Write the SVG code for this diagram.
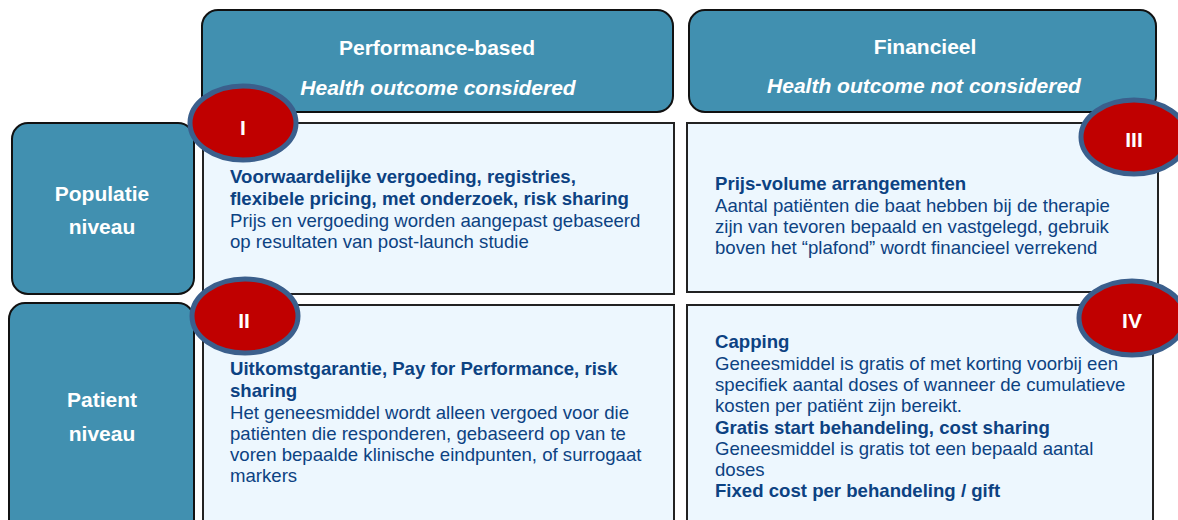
<svg xmlns="http://www.w3.org/2000/svg" width="1178" height="520" viewBox="0 0 1178 520">
<style>
.hdr{fill:#4190b0;stroke:#111;stroke-width:2}
.cell{fill:#edf7fe;stroke:#222;stroke-width:2}
.badge{fill:#c00000;stroke:#3b5f8c;stroke-width:5}
.ht{font-family:"Liberation Sans",Arial,sans-serif;font-weight:bold;fill:#fff;font-size:21px;text-anchor:middle}
.hi{font-style:italic}
.bt{font-family:"Liberation Sans",Arial,sans-serif;font-weight:bold;fill:#fff;font-size:21px;text-anchor:middle}
.t{font-family:"Liberation Sans",Arial,sans-serif;fill:#0c4282;font-size:18.6px}
.b{font-weight:bold}
</style>
<rect width="1178" height="520" fill="#fff"/>
<g id="header-performance">
<rect class="hdr" x="202" y="10" width="471" height="102" rx="16"/>
<text class="ht" x="437" y="55">Performance-based</text>
<text class="ht hi" x="438" y="95">Health outcome considered</text>
</g>
<g id="header-financieel">
<rect class="hdr" x="689" y="10" width="467" height="102" rx="16"/>
<text class="ht" x="925" y="54">Financieel</text>
<text class="ht hi" x="924" y="93">Health outcome not considered</text>
</g>
<g id="row-populatie">
<rect class="hdr" x="12" y="123" width="182" height="171" rx="16"/>
<text class="ht" x="102" y="201">Populatie</text>
<text class="ht" x="102" y="234">niveau</text>
</g>
<g id="row-patient">
<rect class="hdr" x="9" y="303" width="185" height="240" rx="16"/>
<text class="ht" x="102" y="407">Patient</text>
<text class="ht" x="102" y="441">niveau</text>
</g>
<g id="cell-I">
<rect class="cell" x="203" y="123" width="471" height="171"/>
<text class="t"><tspan class="b" x="230" y="183">Voorwaardelijke vergoeding, registries,</tspan><tspan class="b" x="230" y="205">flexibele pricing, met onderzoek, risk sharing</tspan><tspan x="230" y="227">Prijs en vergoeding worden aangepast gebaseerd</tspan><tspan x="230" y="248">op resultaten van post-launch studie</tspan></text>
</g>
<g id="cell-III">
<rect class="cell" x="687" y="123" width="471" height="169"/>
<text class="t"><tspan class="b" x="715" y="190">Prijs-volume arrangementen</tspan><tspan x="715" y="212">Aantal patiënten die baat hebben bij de therapie</tspan><tspan x="715" y="233">zijn van tevoren bepaald en vastgelegd, gebruik</tspan><tspan x="715" y="254">boven het “plafond” wordt financieel verrekend</tspan></text>
</g>
<g id="cell-II">
<rect class="cell" x="203" y="305" width="471" height="240"/>
<text class="t"><tspan class="b" x="230" y="375">Uitkomstgarantie, Pay for Performance, risk</tspan><tspan class="b" x="230" y="397">sharing</tspan><tspan x="230" y="419">Het geneesmiddel wordt alleen vergoed voor die</tspan><tspan x="230" y="440">patiënten die responderen, gebaseerd op van te</tspan><tspan x="230" y="461">voren bepaalde klinische eindpunten, of surrogaat</tspan><tspan x="230" y="482">markers</tspan></text>
</g>
<g id="cell-IV">
<rect class="cell" x="687" y="305" width="466" height="240"/>
<text class="t"><tspan class="b" x="715" y="348">Capping</tspan><tspan x="715" y="370">Geneesmiddel is gratis of met korting voorbij een</tspan><tspan x="715" y="391">specifiek aantal doses of wanneer de cumulatieve</tspan><tspan x="715" y="412">kosten per patiënt zijn bereikt.</tspan><tspan class="b" x="715" y="434">Gratis start behandeling, cost sharing</tspan><tspan x="715" y="455">Geneesmiddel is gratis tot een bepaald aantal</tspan><tspan x="715" y="476">doses</tspan><tspan class="b" x="715" y="497">Fixed cost per behandeling / gift</tspan></text>
</g>
<g id="badge-I">
<ellipse class="badge" cx="243" cy="123" rx="53" ry="37"/>
<text class="bt" x="243" y="135">I</text>
</g>
<g id="badge-II">
<ellipse class="badge" cx="245" cy="316" rx="53" ry="37"/>
<text class="bt" x="244" y="328">II</text>
</g>
<g id="badge-III">
<ellipse class="badge" cx="1134" cy="137" rx="53" ry="37"/>
<text class="bt" x="1134" y="147">III</text>
</g>
<g id="badge-IV">
<ellipse class="badge" cx="1132" cy="318" rx="53" ry="37"/>
<text class="bt" x="1132" y="328">IV</text>
</g>
<g id="connectors"></g>
</svg>
